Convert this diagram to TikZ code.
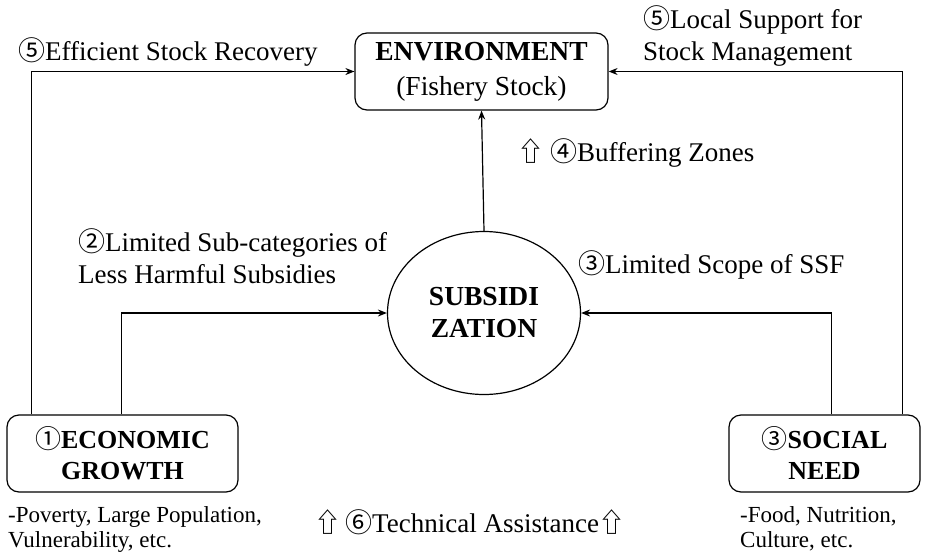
\documentclass[tikz,border=0pt]{standalone}
\usepackage{fontspec}
\setmainfont{Liberation Serif}
\newfontfamily\symf{Noto Sans CJK SC}
\usetikzlibrary{arrows.meta,shapes.geometric}
\newcommand{\cnum}[1]{{\symf\fontseries{m}\selectfont #1}}
\begin{document}
\begin{tikzpicture}[x=1pt,y=-1pt,
  box/.style={draw,line width=1.2pt,rounded corners=12pt,minimum width=#1,minimum height=77pt,align=center,inner sep=0pt},
  arr/.style={line width=1.2pt,-{Stealth[length=9pt,width=7pt]}},
  lbl/.style={anchor=west,inner sep=0pt,align=left,font=\fontsize{27}{32}\selectfont},
  small/.style={anchor=north west,inner sep=0pt,align=left,font=\fontsize{23}{25}\selectfont}]
\useasboundingbox (0,0) rectangle (926,554);
\node[box=253pt,font=\fontsize{27.5}{35}\selectfont] (env) at (481.5,71.5) {\textbf{ENVIRONMENT}\\(Fishery Stock)};
\node[draw,ellipse,line width=1.2pt,minimum width=193pt,minimum height=163pt,inner sep=0pt,align=center,font=\fontsize{27.5}{32}\selectfont\bfseries] (sub) at (484,313) {SUBSIDI\\ZATION};
\node[box=231pt,font=\fontsize{26}{31}\selectfont\bfseries] (eco) at (122.5,453.5) {\cnum{①}ECONOMIC\\GROWTH};
\node[box=191pt,font=\fontsize{26}{31}\selectfont\bfseries] (soc) at (824.5,453.5) {\cnum{③}SOCIAL\\NEED};
\draw[arr] (sub.north) -- (env.south);
\draw[arr] ([xshift=25pt]eco.north west) |- (env.west);
\draw[arr] ([xshift=115pt]eco.north west) |- (sub.west);
\draw[arr] ([xshift=103pt]soc.north west) |- (sub.east);
\draw[arr] ([xshift=174pt]soc.north west) |- (env.east);
\node[lbl] (l1) at (18,52) {\cnum{⑤}Efficient Stock Recovery};
\node[lbl] (l2) at (643,36) {\cnum{⑤}Local Support for\\Stock Management};
\node[lbl] (l3) at (517,153) {\cnum{⇧}\hspace{6pt}\cnum{④}Buffering Zones};
\node[lbl] (l4) at (78,256) {\cnum{②}Limited Sub-categories of\\Less Harmful Subsidies};
\node[lbl] (l5) at (578,265) {\cnum{③}Limited Scope of SSF};
\node[lbl] (l6) at (314,522) {\cnum{⇧}\hspace{4pt}\cnum{⑥}Technical Assistance\cnum{⇧}};
\node[small] (t1) at (8,506) {-Poverty, Large Population,\\Vulnerability, etc.};
\node[small] (t2) at (740,506) {-Food, Nutrition,\\Culture, etc.};
\end{tikzpicture}
\end{document}
